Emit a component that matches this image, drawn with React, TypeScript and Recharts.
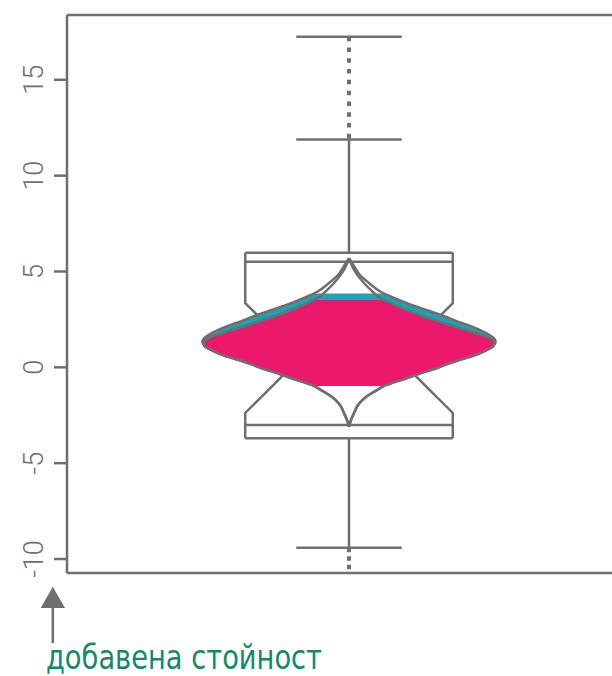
import React from 'react';
import { ComposedChart, XAxis, YAxis, Area, ReferenceLine } from 'recharts';

const GRAY = '#6e6f71';
const TEAL = '#1ba4b6';
const PINK = '#ec186c';
const GREEN = '#158868';

// value axis
const yTicks = [-10, -5, 0, 5, 10, 15];
const yDomain: [number, number] = [-10.73, 18.38];
const xDomain: [number, number] = [-1, 1];

// box / whisker statistics (value axis)
const whiskerTop = 17.25;
const upperFence = 11.89;
const boxTop = 5.98;
const upperLine = 5.51;
const notchTop = 3.35;
const notchMid = 0.49;
const notchBottom = -2.38;
const lowerLine = -3.01;
const boxBottom = -3.7;
const lowerFence = -9.41;
const whiskerBottom = -10.73;

// half widths (horizontal units)
const boxHalf = 0.368;
const notchHalf = 0.172;
const capHalf = 0.187;

// violin density profiles
const levels = [5.7, 5.28, 4.81, 4.4, 3.93, 3.62, 3.28, 2.99, 2.68, 2.36, 2.1, 1.84, 1.58, 1.33, 1.11, 0.9, 0.64, 0.38, 0.15, -0.09, -0.35, -0.56, -0.92, -1.18, -1.55, -1.97, -2.38, -2.75, -3.1];
const outerWidths = [0, 0.018, 0.039, 0.071, 0.114, 0.16, 0.217, 0.274, 0.335, 0.391, 0.441, 0.48, 0.509, 0.52, 0.512, 0.488, 0.448, 0.391, 0.345, 0.302, 0.246, 0.206, 0.132, 0.1, 0.06, 0.032, 0.018, 0.007, 0];
const innerWidths = [0, 0.011, 0.03, 0.053, 0.085, 0.11, 0.16, 0.206, 0.263, 0.327, 0.381, 0.441, 0.491, 0.516, 0.512, 0.488, 0.448, 0.391, 0.345, 0.302, 0.246, 0.206, 0.132, 0.1, 0.06, 0.032, 0.018, 0.007, 0];

// fill bands
const tealTop = 3.85;
const tealTopWidth = 0.126;
const pinkTop = 3.51;
const pinkTopWidth = 0.124;
const fillBottom = -0.97;
const fillBottomWidth = 0.126;

// box outline profile
const boxLevels = [boxTop, notchTop, notchMid, notchBottom, boxBottom];
const boxWidths = [boxHalf, boxHalf, notchHalf, boxHalf, boxHalf];

const profile = (lv: number[], ws: number[]) => lv.map((v, i) => ({ v, w: [-ws[i], ws[i]] }));
const band = (top: number, topW: number, ws: number[]) => [
  { v: top, w: [-topW, topW] },
  ...levels.map((v, i) => ({ v, w: [-ws[i], ws[i]] })).filter((d) => d.v < top && d.v > fillBottom),
  { v: fillBottom, w: [-fillBottomWidth, fillBottomWidth] },
];

const outerData = profile(levels, outerWidths);
const innerData = profile(levels, innerWidths);
const boxData = profile(boxLevels, boxWidths);
const tealData = band(tealTop, tealTopWidth, outerWidths);
const pinkData = band(pinkTop, pinkTopWidth, innerWidths);

const RotTick = (props: any) => {
  const { y, payload } = props;
  const cx = 43.5;
  return (
    <text
      x={cx}
      y={y}
      transform={`rotate(-90 ${cx} ${y})`}
      textAnchor="middle"
      fill={GRAY}
      fontFamily="Roboto, 'DejaVu Sans', sans-serif"
      fontWeight={300}
      fontSize={27}
    >
      {payload.value}
    </text>
  );
};

const line = { stroke: GRAY, strokeWidth: 2.5 };

export default function App() {
  return (
    <div style={{ position: 'fixed', left: 0, top: 0, width: 612, height: 676, overflow: 'hidden', background: '#fff' }}>
      <ComposedChart layout="vertical" width={631} height={676} margin={{ top: 15, right: 0, bottom: 103, left: 0 }}>
        <XAxis type="number" domain={xDomain} height={0} hide allowDataOverflow />
        <YAxis
          type="number"
          dataKey="v"
          domain={yDomain}
          ticks={yTicks}
          interval={0}
          reversed
          width={67}
          tickSize={13}
          tickLine={line}
          axisLine={line}
          tick={RotTick}
          allowDataOverflow
        />
        {/* frame */}
        <ReferenceLine y={yDomain[1]} {...line} />
        <ReferenceLine y={yDomain[0]} {...line} />
        {/* whiskers */}
        <ReferenceLine segment={[{ x: 0, y: whiskerTop }, { x: 0, y: upperFence }]} stroke={GRAY} strokeWidth={4} strokeDasharray="4.5 6.3" />
        <ReferenceLine segment={[{ x: 0, y: upperFence }, { x: 0, y: boxTop }]} {...line} />
        <ReferenceLine segment={[{ x: 0, y: boxBottom }, { x: 0, y: lowerFence }]} {...line} />
        <ReferenceLine segment={[{ x: 0, y: lowerFence }, { x: 0, y: whiskerBottom }]} stroke={GRAY} strokeWidth={4} strokeDasharray="4.5 4" />
        <ReferenceLine segment={[{ x: -capHalf, y: whiskerTop }, { x: capHalf, y: whiskerTop }]} {...line} />
        <ReferenceLine segment={[{ x: -capHalf, y: upperFence }, { x: capHalf, y: upperFence }]} {...line} />
        <ReferenceLine segment={[{ x: -capHalf, y: lowerFence }, { x: capHalf, y: lowerFence }]} {...line} />
        {/* box horizontals */}
        <ReferenceLine segment={[{ x: -boxHalf, y: boxTop }, { x: boxHalf, y: boxTop }]} {...line} />
        <ReferenceLine segment={[{ x: -boxHalf, y: upperLine }, { x: boxHalf, y: upperLine }]} {...line} />
        <ReferenceLine segment={[{ x: -boxHalf, y: lowerLine }, { x: boxHalf, y: lowerLine }]} {...line} />
        <ReferenceLine segment={[{ x: -boxHalf, y: boxBottom }, { x: boxHalf, y: boxBottom }]} {...line} />
        {/* box notched sides */}
        <Area data={boxData} dataKey="w" type="linear" fill="none" {...line} dot={false} activeDot={false} isAnimationActive={false} />
        {/* violin fills */}
        <Area data={tealData} dataKey="w" type="monotone" fill={TEAL} fillOpacity={1} stroke="none" dot={false} activeDot={false} isAnimationActive={false} />
        <Area data={pinkData} dataKey="w" type="monotone" fill={PINK} fillOpacity={1} stroke="none" dot={false} activeDot={false} isAnimationActive={false} />
        {/* violin outlines */}
        <Area data={outerData} dataKey="w" type="monotone" fill="none" {...line} dot={false} activeDot={false} isAnimationActive={false} />
        <Area data={innerData} dataKey="w" type="monotone" fill="none" {...line} dot={false} activeDot={false} isAnimationActive={false} />
      </ComposedChart>
      <svg width={612} height={676} style={{ position: 'absolute', left: 0, top: 0, pointerEvents: 'none' }}>
        <polygon points="40.7,608 65,608 52.8,586.7" fill={GRAY} />
        <line x1={52.8} y1={606} x2={52.8} y2={643} stroke={GRAY} strokeWidth={2.5} />
        <text
          x={46}
          y={669}
          fill={GREEN}
          fontFamily="'Liberation Sans Narrow', 'DejaVu Sans Condensed', 'Liberation Sans', sans-serif"
          fontSize={33}
          textLength={276}
          lengthAdjust="spacingAndGlyphs"
        >
          добавена стойност
        </text>
      </svg>
    </div>
  );
}
